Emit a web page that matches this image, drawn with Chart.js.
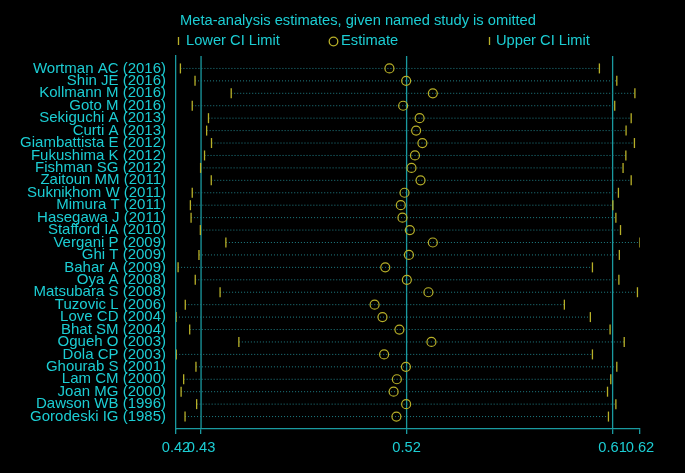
<!DOCTYPE html>
<html>
<head>
<meta charset="utf-8">
<script src="https://cdn.jsdelivr.net/npm/chart.js@4/dist/chart.umd.min.js"></script>
<style>
html,body{margin:0;padding:0;background:#000;}
canvas{display:block;}
</style>
</head>
<body>
<canvas id="c" width="685" height="473"></canvas>
<script>
const studies = ["Wortman AC (2016)","Shin JE (2016)","Kollmann M (2016)","Goto M (2016)","Sekiguchi A (2013)","Curti A (2013)","Giambattista E (2012)","Fukushima K (2012)","Fishman SG (2012)","Zaitoun MM (2011)","Suknikhom W (2011)","Mimura T (2011)","Hasegawa J (2011)","Stafford IA (2010)","Vergani P (2009)","Ghi T (2009)","Bahar A (2009)","Oya A (2008)","Matsubara S (2008)","Tuzovic L (2006)","Love CD (2004)","Bhat SM (2004)","Ogueh O (2003)","Dola CP (2003)","Ghourab S (2001)","Lam CM (2000)","Joan MG (2000)","Dawson WB (1996)","Gorodeski IG (1985)"];
const lowerCI = [0.4219,0.4282,0.4438,0.4270,0.4340,0.4332,0.4353,0.4323,0.4306,0.4352,0.4270,0.4262,0.4265,0.4305,0.4415,0.4299,0.4209,0.4283,0.4390,0.4240,0.4200,0.4259,0.4471,0.4201,0.4286,0.4233,0.4222,0.4289,0.4239];
const estimate = [0.5120,0.5192,0.5307,0.5179,0.5250,0.5235,0.5262,0.5230,0.5215,0.5254,0.5185,0.5169,0.5176,0.5208,0.5307,0.5204,0.5102,0.5195,0.5288,0.5056,0.5090,0.5163,0.5301,0.5097,0.5191,0.5152,0.5138,0.5192,0.5150];
const upperCI = [0.6025,0.6100,0.6178,0.6091,0.6162,0.6140,0.6176,0.6139,0.6127,0.6162,0.6107,0.6083,0.6096,0.6116,0.6200,0.6111,0.5995,0.6109,0.6189,0.5874,0.5986,0.6071,0.6132,0.5995,0.6100,0.6074,0.6060,0.6096,0.6064];
const overall = [0.4308, 0.5194, 0.6082];
const xTickValues = [0.42, 0.4308, 0.5194, 0.6082, 0.62];
const titleText = "Meta-analysis estimates, given named study is omitted";
const legendLabels = ["Lower CI Limit", "Estimate", "Upper CI Limit"];

const CYAN = "#1ccdd3";
const TEAL = "#1a9aa0";
const DOT = "#1f7f86";
const YEL = "#b8b028";
const FONT = "'Liberation Sans', Arial, sans-serif";

const datasets = [];
datasets.push({label:"Estimate", type:"scatter", data: estimate.map((v,i)=>({x:v,y:i+1})), pointStyle:"circle", pointRadius:4.5, pointBorderColor:YEL, pointBackgroundColor:"rgba(0,0,0,0)", pointBorderWidth:1.2, order:0});
datasets.push({label:"Lower", type:"scatter", data: lowerCI.map((v,i)=>({x:v,y:i+1})), pointStyle:"line", pointRotation:90, pointRadius:5, pointBorderColor:YEL, pointBorderWidth:1.3, order:0});
datasets.push({label:"Upper", type:"scatter", data: upperCI.map((v,i)=>({x:v,y:i+1})), pointStyle:"line", pointRotation:90, pointRadius:5, pointBorderColor:YEL, pointBorderWidth:1.3, order:0});
overall.forEach(v=>{
  datasets.push({type:"line", data:[{x:v,y:0},{x:v,y:30}], borderColor:TEAL, borderWidth:1.3, pointRadius:0, order:2});
});
studies.forEach((s,i)=>{
  datasets.push({type:"line", data:[{x:lowerCI[i],y:i+1},{x:upperCI[i],y:i+1}], borderColor:DOT, borderWidth:1, borderDash:[1,2], pointRadius:0, order:1});
});

const headerPlugin = {
  id:"header",
  afterDraw(chart){
    const ctx = chart.ctx;
    ctx.save();
    ctx.font = "14.7px " + FONT;
    ctx.fillStyle = CYAN;
    ctx.textBaseline = "middle";
    ctx.textAlign = "left";
    ctx.fillText(titleText, 180, 21);
    ctx.fillText(legendLabels[0], 186, 41);
    ctx.fillText(legendLabels[1], 341, 41);
    ctx.fillText(legendLabels[2], 496, 41);
    ctx.strokeStyle = YEL;
    ctx.lineWidth = 1.3;
    ctx.beginPath();
    ctx.moveTo(178.5, 37); ctx.lineTo(178.5, 45);
    ctx.moveTo(489.5, 37); ctx.lineTo(489.5, 45);
    ctx.stroke();
    ctx.beginPath();
    ctx.arc(333.5, 41.5, 4.3, 0, Math.PI*2);
    ctx.stroke();
    ctx.restore();
  }
};

const bgPlugin = {
  id:"bg",
  beforeDraw(chart){
    const ctx = chart.ctx;
    ctx.save();
    ctx.fillStyle = "#000";
    ctx.fillRect(0,0,chart.width,chart.height);
    ctx.restore();
  }
};

new Chart(document.getElementById("c"), {
  type:"scatter",
  data:{datasets},
  plugins:[bgPlugin, headerPlugin],
  options:{
    responsive:false,
    devicePixelRatio:1,
    animation:false,
    layout:{padding:{top:56, right:45, left:0, bottom:0}},
    plugins:{legend:{display:false}, title:{display:false}, tooltip:{enabled:false}},
    scales:{
      x:{
        type:"linear", min:0.42, max:0.62,
        afterBuildTicks(scale){ scale.ticks = xTickValues.map(v=>({value:v})); },
        afterFit(scale){ scale.height = 44; },
        ticks:{color:CYAN, font:{family:FONT, size:14.7}, autoSkip:false, maxRotation:0, minRotation:0, padding:5,
          callback:(v)=>Number(v).toFixed(2)},
        grid:{display:true, drawOnChartArea:false, drawTicks:true, tickLength:5, color:TEAL, lineWidth:1.3},
        border:{display:true, color:TEAL, width:1.3}
      },
      y:{
        type:"linear", min:0, max:30, reverse:true,
        afterBuildTicks(scale){ scale.ticks = studies.map((_,i)=>({value:i+1})); },
        afterFit(scale){ scale.width = 176; },
        ticks:{color:CYAN, font:{family:FONT, size:15}, autoSkip:false, padding:10,
          callback:(v)=>studies[v-1]},
        grid:{display:false, drawTicks:false},
        border:{display:true, color:TEAL, width:1.3}
      }
    }
  }
});
</script>
</body>
</html>
